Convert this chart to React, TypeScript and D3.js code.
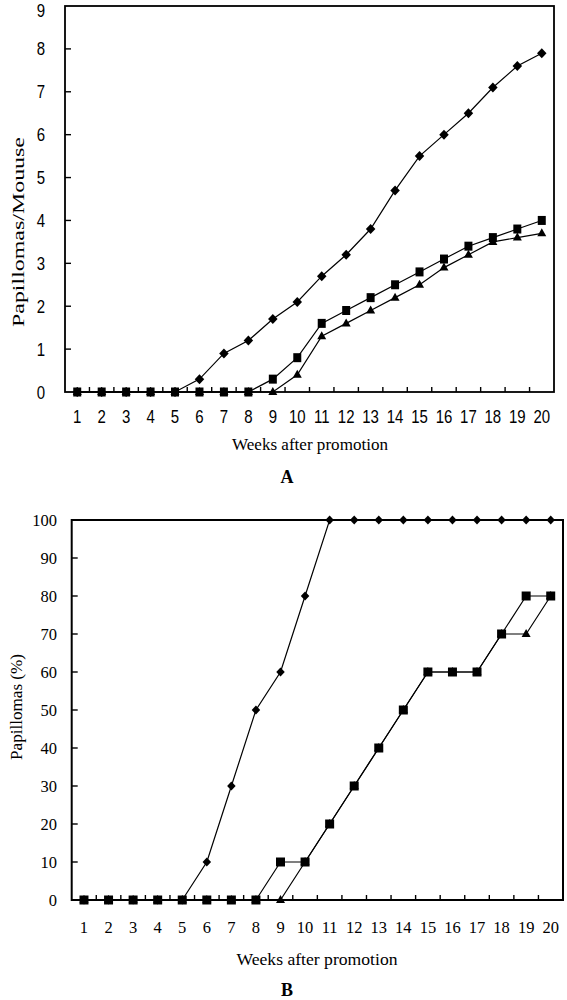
import React from 'react';
import * as d3 from 'd3';

const weeks = [1, 2, 3, 4, 5, 6, 7, 8, 9, 10, 11, 12, 13, 14, 15, 16, 17, 18, 19, 20];

const perMouseDiamond = [0, 0, 0, 0, 0, 0.3, 0.9, 1.2, 1.7, 2.1, 2.7, 3.2, 3.8, 4.7, 5.5, 6.0, 6.5, 7.1, 7.6, 7.9];
const perMouseSquare = [0, 0, 0, 0, 0, 0, 0, 0, 0.3, 0.8, 1.6, 1.9, 2.2, 2.5, 2.8, 3.1, 3.4, 3.6, 3.8, 4.0];
const perMouseTriangle = [0, 0, 0, 0, 0, 0, 0, 0, 0, 0.4, 1.3, 1.6, 1.9, 2.2, 2.5, 2.9, 3.2, 3.5, 3.6, 3.7];

const incidenceDiamond = [0, 0, 0, 0, 0, 10, 30, 50, 60, 80, 100, 100, 100, 100, 100, 100, 100, 100, 100, 100];
const incidenceSquare = [0, 0, 0, 0, 0, 0, 0, 0, 10, 10, 20, 30, 40, 50, 60, 60, 60, 70, 80, 80];
const incidenceTriangle = [0, 0, 0, 0, 0, 0, 0, 0, 0, 10, 20, 30, 40, 50, 60, 60, 60, 70, 70, 80];

const perMouseTicks = [0, 1, 2, 3, 4, 5, 6, 7, 8, 9];
const incidenceTicks = [0, 10, 20, 30, 40, 50, 60, 70, 80, 90, 100];

type Shape = 'diamond' | 'square' | 'triangle';

function markerPath(shape: Shape, cx: number, cy: number, s: { w: number; h: number }) {
  const p = d3.path();
  const hw = s.w / 2;
  const hh = s.h / 2;
  if (shape === 'diamond') {
    p.moveTo(cx, cy - hh);
    p.lineTo(cx + hw, cy);
    p.lineTo(cx, cy + hh);
    p.lineTo(cx - hw, cy);
  } else if (shape === 'square') {
    p.rect(cx - hw, cy - hh, s.w, s.h);
  } else {
    p.moveTo(cx, cy - hh - 1);
    p.lineTo(cx + hw, cy + hh - 1);
    p.lineTo(cx - hw, cy + hh - 1);
  }
  p.closePath();
  return p.toString();
}

interface PanelProps {
  left: number;
  right: number;
  top: number;
  bottom: number;
  yMax: number;
  yTicks: number[];
  series: { values: number[]; shape: Shape }[];
  sizes: Record<Shape, { w: number; h: number }>;
  tickFont: string;
  tickSize: number;
  tickScaleY: number;
  xLabelBaseline: number;
  yLabelRight: number;
  yLabelOffset: number;
  minBaseline: number;
  frameWidth: number;
}

function Panel(props: PanelProps) {
  const {
    left, right, top, bottom, yMax, yTicks, series, sizes, tickFont, tickSize, tickScaleY,
    xLabelBaseline, yLabelRight, yLabelOffset, minBaseline, frameWidth,
  } = props;
  const x = d3.scaleBand<number>().domain(weeks).range([left, right]).paddingInner(0).paddingOuter(0);
  const y = d3.scaleLinear().domain([0, yMax]).range([bottom, top]);
  const cx = (w: number) => (x(w) as number) + x.bandwidth() / 2;
  const line = d3.line<number>().x((_, i) => cx(weeks[i])).y((v) => y(v));
  const boundaries = weeks.slice(1).map((w) => x(w) as number);

  return (
    <g>
      {series.map((s, i) => (
        <path key={'l' + i} d={line(s.values) || ''} fill="none" stroke="#000" strokeWidth={1.2} />
      ))}
      {series.map((s, i) => (
        <g key={'m' + i}>
          {s.values.map((v, j) => (
            <path key={j} d={markerPath(s.shape, cx(weeks[j]), y(v), sizes[s.shape])} fill="#000" />
          ))}
        </g>
      ))}
      <rect x={left} y={top} width={right - left} height={bottom - top} fill="none" stroke="#000" strokeWidth={frameWidth} />
      {boundaries.map((bx, i) => (
        <line key={'xt' + i} x1={bx} x2={bx} y1={bottom} y2={bottom - 5} stroke="#000" strokeWidth={1.4} />
      ))}
      {yTicks.slice(1, -1).map((t) => (
        <line key={'yt' + t} x1={left} x2={left + 6} y1={y(t)} y2={y(t)} stroke="#000" strokeWidth={1.4} />
      ))}
      {weeks.map((w) => (
        <text
          key={'xl' + w}
          transform={`translate(${cx(w)},${xLabelBaseline}) scale(1,${tickScaleY})`}
          textAnchor="middle"
          fontFamily={tickFont}
          fontSize={tickSize}
          fill="#000"
        >
          {w}
        </text>
      ))}
      {yTicks.map((t) => (
        <text
          key={'yl' + t}
          transform={`translate(${yLabelRight},${Math.max(y(t) + yLabelOffset, minBaseline)}) scale(1,${tickScaleY})`}
          textAnchor="end"
          fontFamily={tickFont}
          fontSize={tickSize}
          fill="#000"
        >
          {t}
        </text>
      ))}
    </g>
  );
}

const serif = '"Liberation Serif", "Times New Roman", Times, "Nimbus Roman", "DejaVu Serif", serif';
const sans = '"Liberation Sans Narrow", "Liberation Sans", Arial, sans-serif';

export default function App() {
  return (
    <svg
      width={567}
      height={1000}
      viewBox="0 0 567 1000"
      style={{ position: 'absolute', left: 0, top: 0, display: 'block', background: '#fff' }}
    >
      <rect x={0} y={0} width={567} height={1000} fill="#fff" />
      {/* Panel A */}
      <Panel
        left={65}
        right={554}
        top={6}
        bottom={392}
        yMax={9}
        yTicks={perMouseTicks}
        series={[
          { values: perMouseDiamond, shape: 'diamond' },
          { values: perMouseTriangle, shape: 'triangle' },
          { values: perMouseSquare, shape: 'square' },
        ]}
        sizes={{ diamond: { w: 9.5, h: 10 }, square: { w: 8, h: 9 }, triangle: { w: 9, h: 8 } }}
        tickFont={sans}
        tickSize={15}
        tickScaleY={1.2}
        xLabelBaseline={423}
        yLabelRight={45}
        yLabelOffset={6.5}
        minBaseline={16.5}
        frameWidth={1.8}
      />
      <text
        transform="translate(24,232) rotate(-90)"
        textAnchor="middle"
        fontFamily={serif}
        fontSize={17}
        textLength={190}
        lengthAdjust="spacingAndGlyphs"
        fill="#000"
      >
        Papillomas/Mouuse
      </text>
      <text
        x={310}
        y={450}
        textAnchor="middle"
        fontFamily={serif}
        fontSize={16.5}
        textLength={156}
        lengthAdjust="spacingAndGlyphs"
        fill="#000"
      >
        Weeks after promotion
      </text>
      <text x={287} y={483} textAnchor="middle" fontFamily={serif} fontSize={18} fontWeight="bold" fill="#000">
        A
      </text>

      {/* Panel B */}
      <Panel
        left={71.7}
        right={563}
        top={520}
        bottom={900}
        yMax={100}
        yTicks={incidenceTicks}
        series={[
          { values: incidenceDiamond, shape: 'diamond' },
          { values: incidenceTriangle, shape: 'triangle' },
          { values: incidenceSquare, shape: 'square' },
        ]}
        sizes={{ diamond: { w: 8.5, h: 9 }, square: { w: 9, h: 9 }, triangle: { w: 9, h: 8 } }}
        tickFont={serif}
        tickSize={16.5}
        tickScaleY={1}
        xLabelBaseline={933}
        yLabelRight={57}
        yLabelOffset={5.5}
        minBaseline={0}
        frameWidth={2}
      />
      <text
        transform="translate(22,707) rotate(-90)"
        textAnchor="middle"
        fontFamily={serif}
        fontSize={17}
        textLength={106}
        lengthAdjust="spacingAndGlyphs"
        fill="#000"
      >
        Papillomas (%)
      </text>
      <text
        x={317}
        y={965}
        textAnchor="middle"
        fontFamily={serif}
        fontSize={17}
        textLength={161}
        lengthAdjust="spacingAndGlyphs"
        fill="#000"
      >
        Weeks after promotion
      </text>
      <text x={287} y={996} textAnchor="middle" fontFamily={serif} fontSize={18} fontWeight="bold" fill="#000">
        B
      </text>
    </svg>
  );
}
